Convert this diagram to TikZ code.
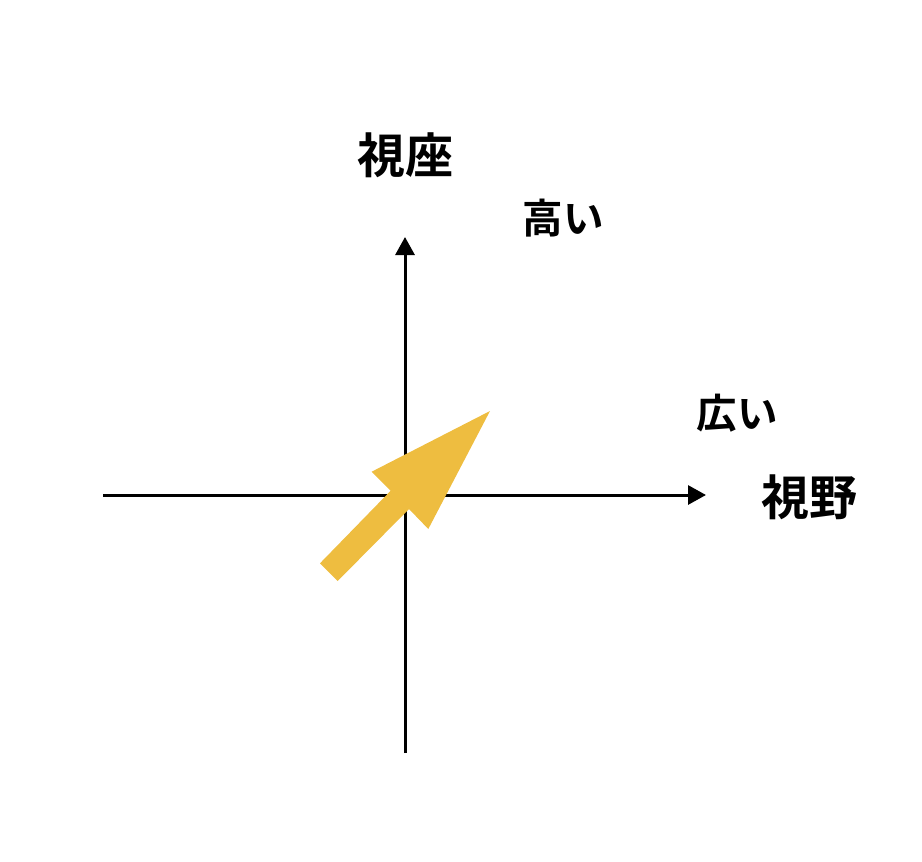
\documentclass[tikz,border=0pt]{standalone}
\usepackage{fontspec}
\newfontfamily\jp{Noto Sans CJK JP Bold}
\usetikzlibrary{arrows.meta}
\definecolor{arrowyellow}{RGB}{238,189,64}
\tikzset{
  axis/.style={line width=3pt, -{Triangle[length=18pt,width=19pt]}},
  biglabel/.style={font=\jp\fontsize{48}{48}\selectfont, inner sep=0pt},
  smalllabel/.style={font=\jp\fontsize{40.5}{40.5}\selectfont, inner sep=0pt},
}
\begin{document}
\begin{tikzpicture}[x=1pt,y=-1pt]
\useasboundingbox (0,0) rectangle (922,862);
\coordinate (vb) at (405,753);
\coordinate (vt) at (405,237);
\coordinate (hl) at (103,495);
\coordinate (hr) at (706,495);
\draw[axis] (vb) -- (vt);
\draw[axis] (hl) -- (hr);
\fill[arrowyellow] (490,411) -- (428.3,529) -- (409,509) -- (337.7,581) -- (320,563.3) -- (390.7,490.7) -- (371.7,471.7) -- cycle;
\node[biglabel] (shiza) at (405,155) {視座};
\node[smalllabel] (takai) at (563,218) {高い};
\node[smalllabel] (hiroi) at (737,413) {広い};
\node[biglabel] (shiya) at (809,497) {視野};
\end{tikzpicture}
\end{document}
